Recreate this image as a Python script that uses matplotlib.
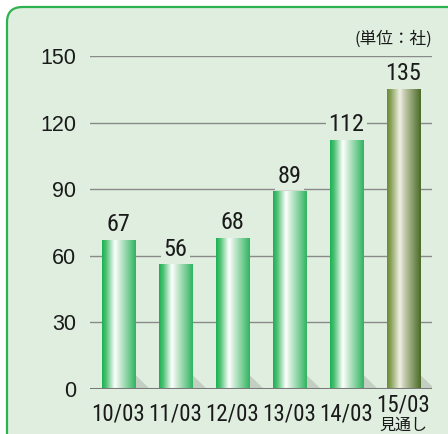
import matplotlib
matplotlib.use("Agg")

import numpy as np
import matplotlib.pyplot as plt
from matplotlib.colors import LinearSegmentedColormap
from matplotlib.patches import FancyBboxPatch, Polygon

years = ["10/03", "11/03", "12/03", "13/03", "14/03", "15/03"]
year_notes = ["", "", "", "", "", "見通し"]
values = [67, 56, 68, 89, 112, 135]
forecast = [False, False, False, False, False, True]
yticks = [0, 30, 60, 90, 120, 150]
unit_label = "(単位：社)"

BG = "#dfeedf"
NARROW = ["Liberation Sans Narrow", "Roboto Condensed", "Archivo Narrow", "DejaVu Sans"]
JP = ["Noto Sans CJK JP", "DejaVu Sans"]

green_cmap = LinearSegmentedColormap.from_list(
    "g", [(0, "#17b052"), (0.12, "#4cc172"), (0.38, "#ffffff"),
          (0.5, "#d6eedb"), (1, "#2fb460")])
olive_cmap = LinearSegmentedColormap.from_list(
    "o", [(0, "#6a8a36"), (0.12, "#8aa35c"), (0.38, "#f2f1e6"),
          (0.5, "#c8ceb2"), (1, "#4a6926")])

fig = plt.figure(figsize=(4.48, 4.34), dpi=100)
fig.patch.set_facecolor("white")

# panel background with rounded green frame
panel = FancyBboxPatch((7 / 448, -0.05), 1.1, 1 - 7 / 434 + 0.05,
                       boxstyle="round,pad=0,rounding_size=0.035",
                       transform=fig.transFigure, facecolor=BG,
                       edgecolor="#2cb34f", linewidth=1.6, zorder=-10)
fig.patches.append(panel)

ax = fig.add_axes([90 / 448, 45 / 434, 342 / 448, 333 / 434])
ax.set_zorder(1)
ax.set_facecolor("none")

for t in yticks[1:]:
    ax.axhline(t, color="#8a8a8a", linewidth=1.0, zorder=1)
ax.axhline(0, color="#7a7a7a", linewidth=2.2, zorder=5)

width = 0.58
grad = np.linspace(0, 1, 256).reshape(1, -1)
for i, (v, fc) in enumerate(zip(values, forecast)):
    x0 = i - width / 2
    x1 = i + width / 2
    # shadow
    shadow = Polygon([(x1, 0), (x1, 6.5), (x1 + 0.26, 0)], closed=True,
                     facecolor="#c4cfc4", edgecolor="none", zorder=2)
    ax.add_patch(shadow)
    ax.imshow(grad, cmap=olive_cmap if fc else green_cmap, aspect="auto",
              extent=[x0, x1, 0, v], zorder=3, interpolation="bicubic")
    ax.text(i, v + 4, str(v), ha="center", va="baseline", fontsize=17.5,
            family=NARROW, color="#1a1a1a", zorder=4,
            bbox=dict(facecolor=BG, edgecolor="none", pad=2))

ax.set_xlim(-0.5, 5.5)
ax.set_ylim(0, 150)

for s in ax.spines.values():
    s.set_visible(False)
ax.tick_params(length=0)
ax.set_yticks(yticks)
ax.set_yticklabels([str(t) for t in yticks], fontsize=15.5,
                   family=["Liberation Sans", "DejaVu Sans"], color="#1a1a1a")
ax.tick_params(axis="y", pad=10)
ax.set_xticks(range(len(years)))
ax.set_xticklabels([])
for i, (lab, note) in enumerate(zip(years, year_notes)):
    if note:
        ax.text(i, -10.3, lab, ha="center", va="baseline", fontsize=16.5,
                family=NARROW, color="#1a1a1a", clip_on=False)
        ax.text(i, -18.2, note, ha="center", va="baseline", fontsize=11.5,
                family=JP, color="#1a1a1a", clip_on=False)
    else:
        ax.text(i, -14.0, lab, ha="center", va="baseline", fontsize=16.5,
                family=NARROW, color="#1a1a1a", clip_on=False)

ax.text(1.0, 153.5, unit_label, transform=ax.get_yaxis_transform(),
        ha="right", va="bottom", fontsize=12, family=JP, color="#1a1a1a")

plt.savefig("out.png", dpi=100, facecolor=fig.get_facecolor())
plt.close()
